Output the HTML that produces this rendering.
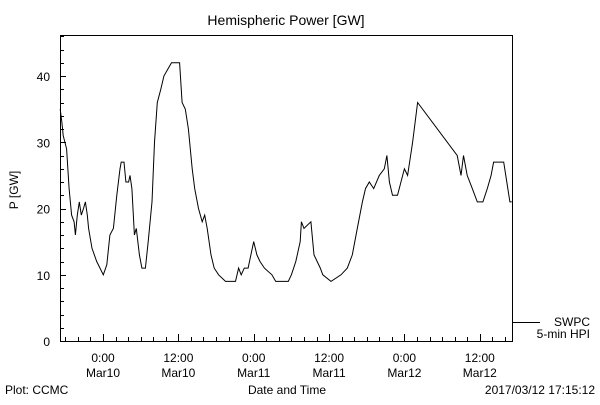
<!DOCTYPE html>
<html><head><meta charset="utf-8"><style>
body{margin:0;background:#fff}
svg text{font-family:"Liberation Sans",sans-serif;font-size:12px;fill:#000}
</style></head><body>
<svg width="600" height="400" viewBox="0 0 600 400">
<rect width="600" height="400" fill="#fff"/>
<text x="286" y="25" text-anchor="middle" style="font-size:14px">Hemispheric Power [GW]</text>
<rect x="60.5" y="35.5" width="452" height="306" fill="none" stroke="#000"/>
<g id="yaxis"></g><g id="xaxis"></g>
<polyline id="series" fill="none" stroke="#000" stroke-width="1"/>
<text transform="translate(18,190) rotate(-90)" text-anchor="middle">P [GW]</text>
<text x="287" y="394" text-anchor="middle">Date and Time</text>
<text x="5" y="394">Plot: CCMC</text>
<text x="595" y="394" text-anchor="end">2017/03/12 17:15:12</text>
<line x1="512" y1="322.5" x2="540" y2="322.5" stroke="#000"/>
<text x="590" y="326" text-anchor="end">SWPC</text>
<text x="590" y="338" text-anchor="end">5-min HPI</text>
</svg>
<script>
const hours=[-6.82,-6.55,-6.33,-5.8,-5.4,-5.0,-4.6,-4.4,-4.1,-3.77,-3.45,-3.1,-2.8,-2.5,-2.3,-1.75,-1.0,-0.48,0.05,0.6,1.1,1.65,2.2,2.7,2.9,3.35,3.65,4.08,4.3,4.6,5.0,5.3,5.8,6.2,6.75,7.2,7.8,8.2,8.65,9.2,9.7,10.3,10.9,12.2,12.6,13.1,13.6,14.2,14.6,15.2,15.8,16.2,16.6,17.2,17.7,18.4,19.5,21.1,21.6,22.0,22.5,23.1,24.0,24.5,25.0,25.7,26.9,27.5,29.5,30.0,30.7,31.4,31.6,32.0,33.1,33.6,34.6,35.0,36.3,37.9,38.9,39.7,40.5,41.3,41.8,42.4,43.1,44.0,44.8,45.2,45.6,46.1,46.9,48.0,48.5,49.3,50.1,56.4,57.0,57.4,58.0,58.8,59.6,60.5,61.2,61.8,62.2,62.9,63.8,64.3,64.8,65.1];
const power=[35,33,31,29,23,19,18,16,19,21,19,20,21,19,17,14,12,11,10,11.5,16,17,22,26,27,27,24,24,25,23,16,17,13,11,11,15,21,30,36,38,40,41,42,42,36,35,32,26,23,20,18,19,17,13,11,10,9,9,11,10,11,11,15,13,12,11,10,9,9,10,12,15,18,17,18,13,11,10,9,10,11,13,17,21,23,24,23,25,26,28,24,22,22,26,25,30,36,28,25,28,25,23,21,21,23,25,27,27,27,24,21,21];
const yTicks=[0,10,20,30,40];
const xTickHours=[0,12,24,36,48,60];
const xTickLabels=[["0:00","Mar10"],["12:00","Mar10"],["0:00","Mar11"],["12:00","Mar11"],["0:00","Mar12"],["12:00","Mar12"]];
const NS="http://www.w3.org/2000/svg";
function xs(h){return 103+h*6.28;}
function ys(v){return 341-v*6.625;}
const ya=document.getElementById('yaxis'),xa=document.getElementById('xaxis');
function ln(g,x1,y1,x2,y2,n){const l=document.createElementNS(NS,'line');l.setAttribute('x1',x1);l.setAttribute('y1',y1);l.setAttribute('x2',x2);l.setAttribute('y2',y2);l.setAttribute('stroke','#000');


g.appendChild(l);}
function tx(g,x,y,s,n){const t=document.createElementNS(NS,'text');t.setAttribute('x',x);t.setAttribute('y',y);t.setAttribute('text-anchor','middle');t.textContent=s;


g.appendChild(t);}
for(let v=0;v<=46;v+=2){const y=Math.round(ys(v))+0.5;ln(ya,60,y,v%10===0?66:64,y,'y-tick');}
yTicks.forEach(v=>{const t=document.createElementNS(NS,'text');t.setAttribute('x',50);t.setAttribute('y',ys(v)+5);t.setAttribute('text-anchor','end');t.textContent=v;


ya.appendChild(t);});
for(let h=-6;h<=64;h+=2){const x=Math.round(xs(h))+0.5;ln(xa,x,341,x,h%12===0?334:337,'x-tick');}
xTickHours.forEach((h,i)=>{tx(xa,xs(h),362,xTickLabels[i][0],'x-tick-label');tx(xa,xs(h),377,xTickLabels[i][1],'x-tick-date');});
document.getElementById('series').setAttribute('points',hours.map((h,i)=>xs(h).toFixed(1)+','+ys(power[i]).toFixed(1)).join(' '));
</script>
</body></html>
